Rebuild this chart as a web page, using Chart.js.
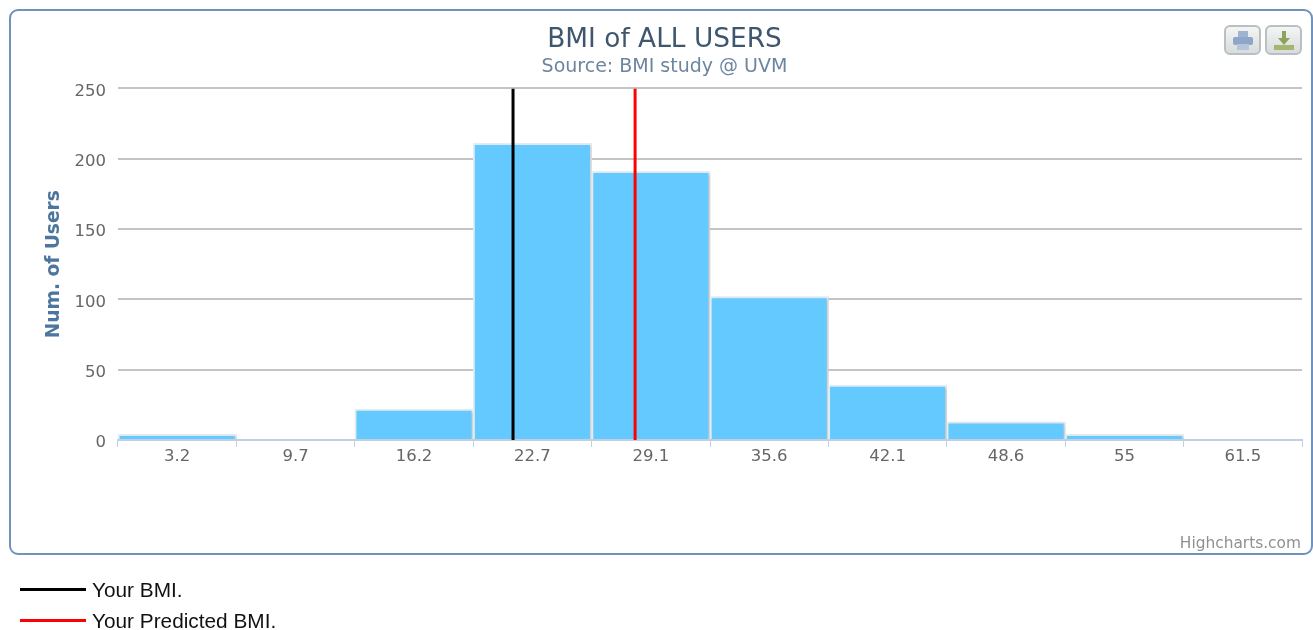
<!DOCTYPE html>
<html>
<head>
<meta charset="utf-8">
<title>BMI of ALL USERS</title>
<script src="https://cdn.jsdelivr.net/npm/chart.js@4"></script>
<style>
  html, body { margin: 0; padding: 0; background: #fff; }
  body { position: relative; width: 1313px; height: 630px; overflow: hidden; }
  #box { position: absolute; left: 9px; top: 9px; width: 1304px; height: 546px; box-sizing: border-box;
         border: 2px solid #6f92bf; border-radius: 9px; }
  #myChart { position: absolute; left: 0; top: 0; }
  .btn { position: absolute; top: 25px; width: 37px; height: 30px; box-sizing: border-box; border: 2px solid #b9bfc2;
         border-radius: 6px; background: linear-gradient(#f4f5f5, #d8dcdc); }
  .btn svg { display: block; margin: 3px auto 0; }
  #credit { position: absolute; right: 12px; top: 534px; font: 15.4px "DejaVu Sans", sans-serif; color: #909090; }
  .key { position: absolute; left: 20px; font: 20.8px/22px "Liberation Sans", sans-serif; color: #111; }
  .key i { position: absolute; left: 0; top: 9px; width: 66px; height: 3px; }
  .key span { margin-left: 72px; white-space: nowrap; }
</style>
</head>
<body>
<div id="box"></div>
<canvas id="myChart" width="1313" height="630"></canvas>
<div class="btn" style="left:1224px">
  <svg width="24" height="22" viewBox="0 0 24 22">
    <rect x="7" y="1" width="10" height="6" fill="#9fb4d0"/>
    <rect x="2" y="7" width="20" height="8" rx="2" fill="#8ea7c9"/>
    <rect x="6" y="14" width="12" height="6" fill="#b4c5dc"/>
  </svg>
</div>
<div class="btn" style="left:1265px">
  <svg width="24" height="22" viewBox="0 0 24 22">
    <path d="M10 1h4v7h4l-6 7-6-7h4z" fill="#8ba35c"/>
    <rect x="2" y="15" width="20" height="5" fill="#a3b56f"/>
  </svg>
</div>
<div id="credit"></div>
<div id="keys"></div>

<script>
var categories = ['3.2', '9.7', '16.2', '22.7', '29.1', '35.6', '42.1', '48.6', '55', '61.5'];
var numUsers = [4, 0, 22, 211, 191, 102, 39, 13, 4, 0];
var yTicks = [0, 50, 100, 150, 200, 250];
var yourBmi = [21.57, 21.57];
var predictedBmi = [28.25, 28.25];
var lineEnds = [0, 250];
var bmiRange = [-0.05, 64.75];
var keyNames = ['Your BMI.', 'Your Predicted BMI.'];
var keyColors = ['#000000', '#ff0000'];
var keyTops = [579, 610];
var creditText = 'Highcharts.com';

function toPoints(xs, ys) {
  return xs.map(function (x, i) { return { x: x, y: ys[i] }; });
}

// soft shadow behind the bars, like the original
var barShadow = {
  id: 'barShadow',
  beforeDatasetDraw: function (chart, args) {
    if (args.meta.type !== 'bar') return;
    chart.ctx.save();
    chart.ctx.shadowColor = 'rgba(0,0,0,0.22)';
    chart.ctx.shadowBlur = 3;
    chart.ctx.shadowOffsetX = 1.5;
    chart.ctx.shadowOffsetY = 1;
  },
  afterDatasetDraw: function (chart, args) {
    if (args.meta.type === 'bar') chart.ctx.restore();
  }
};

new Chart(document.getElementById('myChart').getContext('2d'), {
  type: 'bar',
  plugins: [barShadow],
  data: {
    labels: categories,
    datasets: [
      {
        type: 'line',
        label: keyNames[0],
        data: toPoints(yourBmi, lineEnds),
        xAxisID: 'xBmi',
        borderColor: keyColors[0],
        borderWidth: 3,
        pointRadius: 0,
        order: 1
      },
      {
        type: 'line',
        label: keyNames[1],
        data: toPoints(predictedBmi, lineEnds),
        xAxisID: 'xBmi',
        borderColor: keyColors[1],
        borderWidth: 3,
        pointRadius: 0,
        order: 1
      },
      {
        label: 'Users',
        data: numUsers,
        backgroundColor: '#63c9ff',
        borderColor: '#e4edf2',
        borderWidth: 2,
        grouped: false, // the second x axis would halve the bars otherwise
        barPercentage: 1,
        categoryPercentage: 1,
        order: 2
      }
    ]
  },
  options: {
    responsive: false,
    animation: false,
    layout: { padding: { left: 27, right: 11, top: 24, bottom: 130 } },
    plugins: {
      legend: { display: false },
      tooltip: { enabled: false },
      title: {
        display: true,
        text: 'BMI of ALL USERS',
        color: '#3e576f',
        font: { family: 'DejaVu Sans', size: 26.4, weight: 'normal' },
        padding: { top: 0, bottom: 0 }
      },
      subtitle: {
        display: true,
        text: 'Source: BMI study @ UVM',
        color: '#6d869f',
        font: { family: 'DejaVu Sans', size: 19, weight: 'normal' },
        padding: { top: 0, bottom: 10 }
      }
    },
    scales: {
      x: {
        grid: { drawOnChartArea: false, drawTicks: true, tickLength: 7, color: '#c0d0e0' },
        border: { color: '#c0d0e0', width: 2 },
        ticks: { color: '#666666', font: { family: 'DejaVu Sans', size: 16.5 }, padding: 0, maxRotation: 0, autoSkip: false },
        afterFit: function (scale) { scale.height = 60; }
      },
      xBmi: {
        type: 'linear',
        display: false,
        offset: false,
        min: bmiRange[0],
        max: bmiRange[1]
      },
      y: {
        min: 0,
        max: 250,
        afterBuildTicks: function (scale) {
          scale.ticks = yTicks.map(function (v) { return { value: v }; });
        },
        grid: { color: '#c4c4c4', lineWidth: 2, drawTicks: false },
        border: { display: false },
        ticks: { color: '#666666', font: { family: 'DejaVu Sans', size: 16.5 }, padding: 12, labelOffset: 3 },
        title: {
          display: true,
          text: 'Num. of Users',
          color: '#4d759e',
          font: { family: 'DejaVu Sans', size: 18.6, weight: 'bold' },
          padding: { top: 16, bottom: 0 }
        },
        afterFit: function (scale) { scale.width = 91; }
      }
    }
  }
});

document.getElementById('credit').textContent = creditText;
var keys = document.getElementById('keys');
keyNames.forEach(function (name, i) {
  var row = document.createElement('div');
  row.className = 'key';
  row.style.top = keyTops[i] + 'px';
  row.innerHTML = '<i style="background:' + keyColors[i] + '"></i><span>' + name + '</span>';
  keys.appendChild(row);
});
</script>
</body>
</html>
